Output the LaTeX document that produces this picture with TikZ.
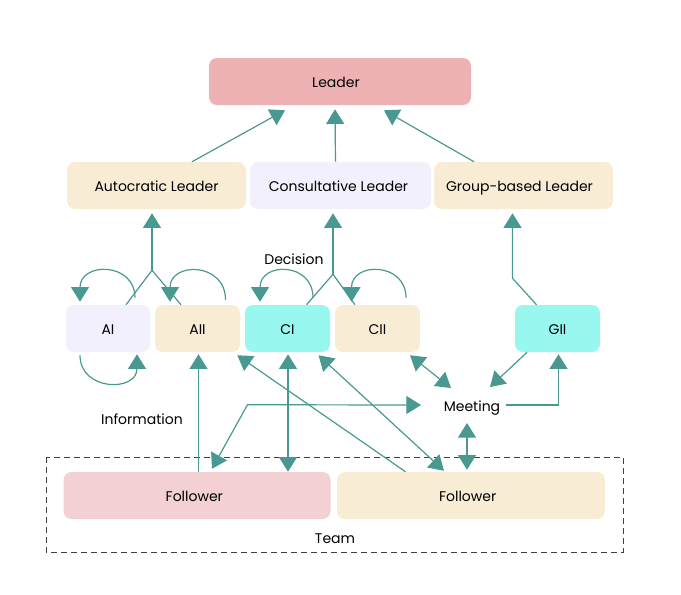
\documentclass[tikz,border=0pt]{standalone}
\usepackage{fontspec}
\setmainfont{Poppins}
\usepackage{tikz}
\usetikzlibrary{positioning}
\usetikzlibrary{calc}
\usetikzlibrary{arrows.meta}
\usepackage{xcolor}
\definecolor{linkteal}{HTML}{4A9990}
\definecolor{leaderpink}{HTML}{EEB2B4}
\definecolor{followerpink}{HTML}{F2D0D3}
\definecolor{softbeige}{HTML}{F8ECD5}
\definecolor{softlilac}{HTML}{F3F0FD}
\definecolor{softcyan}{HTML}{98F8EF}

\begin{document}
\begin{tikzpicture}[x=0.75pt,y=-0.75pt,
    box/.style={rounded corners=6pt, minimum height=35.25pt, inner sep=0pt,
        text height=9pt, text depth=0pt, font=\fontsize{10.5}{12}\selectfont},
    lbl/.style={inner sep=0pt, text height=9pt, text depth=0pt, font=\fontsize{10.5}{12}\selectfont},
    link/.style={draw=linkteal, line width=0.9pt},
    arr/.style={link, -{Triangle[length=11pt,width=13.5pt]}},
    biarr/.style={link, {Triangle[length=11pt,width=13.5pt]}-{Triangle[length=11pt,width=13.5pt]}}]
    \useasboundingbox (0,0) rectangle (681,594);

    \node[box, fill=leaderpink, minimum width=196.5pt] (leader) at (340,81.5) {Leader\hspace*{6pt}};

    \node[box, fill=softbeige, minimum width=134.25pt] (aut) at (156.5,185.5) {Autocratic Leader};
    \node[box, fill=softlilac, minimum width=135.75pt] (con) at (340.5,185.5) {Consultative Leader\hspace*{3pt}};
    \node[box, fill=softbeige, minimum width=134.25pt] (grp) at (523.5,185.5) {Group-based Leader\hspace*{6pt}};

    \node[box, fill=softlilac, minimum width=63pt] (ai) at (108,328.5) {AI};
    \node[box, fill=softbeige, minimum width=63.75pt] (aii) at (197.5,328.5) {AII};
    \node[box, fill=softcyan, minimum width=63.75pt] (ci) at (287.5,328.5) {CI};
    \node[box, fill=softbeige, minimum width=63.75pt] (cii) at (377.5,328.5) {CII};
    \node[box, fill=softcyan, minimum width=63.75pt] (gii) at (557.5,328.5) {GII};

    \node[lbl] (dec) at (294,258) {Decision};
    \node[lbl] (info) at (142,418) {Information};
    \node[lbl] (meet) at (472,405) {Meeting};

    \draw[dashed, draw=black!75, line width=0.75pt, dash pattern=on 4.5pt off 3pt] (46,457) rectangle (623,552);
    \node[box, fill=followerpink, minimum width=200.25pt] (fol1) at (197,495.5) {Follower\hspace*{4pt}};
    \node[box, fill=softbeige, minimum width=201pt] (fol2) at (471,495.5) {Follower\hspace*{5pt}};
    \node[lbl] (team) at (335,537) {Team};

    % to the leader
    \draw[arr] ($(aut.north)+(35.5,0)$) -- ($(leader.south)+(-55,5)$);
    \draw[arr] ($(con.north)+(-5,0)$) -- ($(leader.south)+(-5,4)$);
    \draw[arr] ($(grp.north)+(-49.5,0)$) -- ($(leader.south)+(44,5)$);

    % autocratic
    \coordinate (jA) at ($(aut.south)+(-4.5,61)$);
    \draw[link] ($(ai.north)+(18,0)$) -- (jA) -- ($(aii.north)+(-16.5,0)$);
    \draw[arr] (jA) -- ($(aut.south)+(-4.5,4)$);
    \draw[arr] ($(ai.north)+(27,-7)$) .. controls +(0,-36) and +(0,-40) .. ($(ai.north)+(-28,-3)$);
    \draw[arr] ($(aii.north)+(28,-5)$) .. controls +(0,-38) and +(0,-40) .. ($(aii.north)+(-27.5,-3)$);
    \draw[arr] ($(ai.south)+(-28,3)$) .. controls +(0,36) and +(0,38) .. ($(ai.south)+(29,2)$);

    % consultative
    \coordinate (jC) at ($(con.south)+(-7.5,65)$);
    \draw[link] ($(ci.north)+(19,0)$) -- (jC) -- ($(cii.north)+(-22.5,0)$);
    \draw[arr] (jC) -- ($(con.south)+(-7.5,4)$);
    \draw[arr] ($(ci.north)+(25.5,-7)$) .. controls +(0,-36) and +(0,-40) .. ($(ci.north)+(-27.5,-3)$);
    \draw[arr] ($(cii.north)+(28.5,-7)$) .. controls +(0,-36) and +(0,-40) .. ($(cii.north)+(-26,-3)$);

    % group-based
    \coordinate (jG) at ($(grp.south)+(-11,69)$);
    \draw[arr] ($(gii.north)+(-21,0)$) -- (jG) -- ($(grp.south)+(-11,4)$);

    % meeting
    \draw[biarr] ($(cii.south)+(32.5,3)$) -- ($(meet)+(-21,-17)$);
    \draw[arr] ($(gii.south)+(-30.5,0)$) -- ($(meet)+(18,-18)$);
    \draw[arr] ($(meet)+(34,0)$) -| ($(gii.south)+(1,2)$);
    \draw[biarr] ($(meet)+(-5,18)$) -- ($(fol2.north)+(-4,-2)$);
    \draw[biarr] ($(fol1.north)+(15,-3)$) -- ($(fol1.north)+(50.5,-67)$) -- ($(meet)+(-51,0)$);

    % followers
    \draw[arr] ($(fol1.north)+(1.5,0)$) -- ($(aii.south)+(1,2)$);
    \draw[biarr] ($(ci.south)+(0.5,2)$) -- ($(ci.south |- fol1.north)+(0.5,0)$);
    \draw[arr] ($(fol2.north)+(-65.5,0)$) -- ($(aii.south east)+(-3,3)$);
    \draw[biarr] ($(ci.south east)+(-11.7,3)$) -- ($(fol2.north)+(-27,-1)$);
\end{tikzpicture}
\end{document}
